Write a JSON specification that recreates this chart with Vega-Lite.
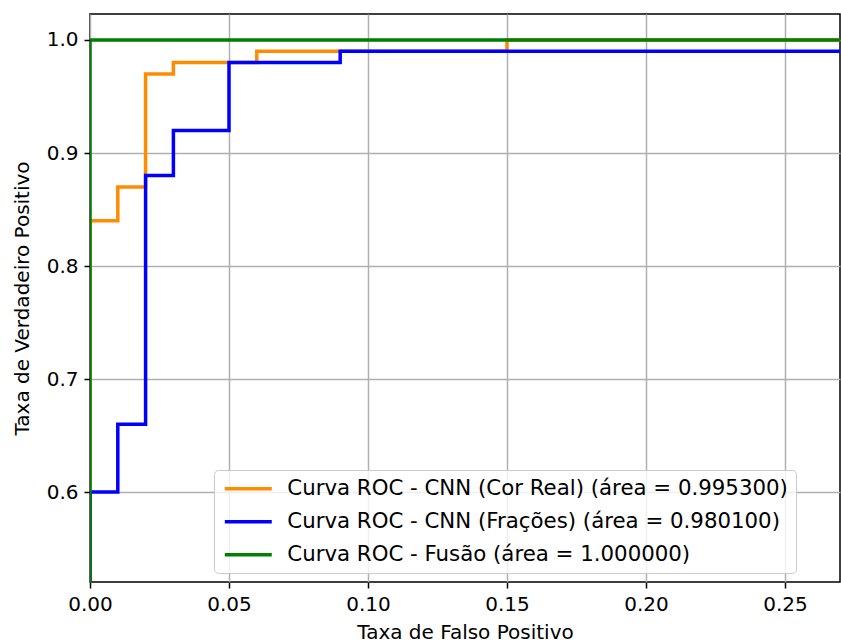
{
  "$schema": "https://vega.github.io/schema/vega-lite/v6.json",
  "width": 750,
  "height": 568,
  "autosize": {"type": "none"},
  "padding": {"left": 90, "top": 14, "right": 1, "bottom": 62},
  "background": "white",
  "config": {
    "font": "DejaVu Sans",
    "view": {"stroke": "black", "strokeWidth": 1.5},
    "axis": {
      "labelFont": "DejaVu Sans",
      "titleFont": "DejaVu Sans",
      "labelFontSize": 20,
      "titleFontSize": 20,
      "titleFontWeight": "normal",
      "labelColor": "black",
      "titleColor": "black",
      "tickColor": "black",
      "tickSize": 6,
      "tickWidth": 1.5,
      "domain": false,
      "grid": true,
      "gridColor": "#b0b0b0",
      "gridWidth": 1.5,
      "labelPadding": 6,
      "labelFlush": false,
      "labelOverlap": false
    }
  },
  "data": {
    "values": [
      {"series": "Curva ROC - CNN (Cor Real) (área = 0.995300)", "i": 0, "fpr": 0.0, "tpr": 0.0},
      {"series": "Curva ROC - CNN (Cor Real) (área = 0.995300)", "i": 1, "fpr": 0.0, "tpr": 0.84},
      {"series": "Curva ROC - CNN (Cor Real) (área = 0.995300)", "i": 2, "fpr": 0.01, "tpr": 0.84},
      {"series": "Curva ROC - CNN (Cor Real) (área = 0.995300)", "i": 3, "fpr": 0.01, "tpr": 0.87},
      {"series": "Curva ROC - CNN (Cor Real) (área = 0.995300)", "i": 4, "fpr": 0.02, "tpr": 0.87},
      {"series": "Curva ROC - CNN (Cor Real) (área = 0.995300)", "i": 5, "fpr": 0.02, "tpr": 0.97},
      {"series": "Curva ROC - CNN (Cor Real) (área = 0.995300)", "i": 6, "fpr": 0.03, "tpr": 0.97},
      {"series": "Curva ROC - CNN (Cor Real) (área = 0.995300)", "i": 7, "fpr": 0.03, "tpr": 0.98},
      {"series": "Curva ROC - CNN (Cor Real) (área = 0.995300)", "i": 8, "fpr": 0.06, "tpr": 0.98},
      {"series": "Curva ROC - CNN (Cor Real) (área = 0.995300)", "i": 9, "fpr": 0.06, "tpr": 0.99},
      {"series": "Curva ROC - CNN (Cor Real) (área = 0.995300)", "i": 10, "fpr": 0.15, "tpr": 0.99},
      {"series": "Curva ROC - CNN (Cor Real) (área = 0.995300)", "i": 11, "fpr": 0.15, "tpr": 1.0},
      {"series": "Curva ROC - CNN (Cor Real) (área = 0.995300)", "i": 12, "fpr": 1.0, "tpr": 1.0},
      {"series": "Curva ROC - CNN (Frações) (área = 0.980100)", "i": 0, "fpr": 0.0, "tpr": 0.0},
      {"series": "Curva ROC - CNN (Frações) (área = 0.980100)", "i": 1, "fpr": 0.0, "tpr": 0.6},
      {"series": "Curva ROC - CNN (Frações) (área = 0.980100)", "i": 2, "fpr": 0.01, "tpr": 0.6},
      {"series": "Curva ROC - CNN (Frações) (área = 0.980100)", "i": 3, "fpr": 0.01, "tpr": 0.66},
      {"series": "Curva ROC - CNN (Frações) (área = 0.980100)", "i": 4, "fpr": 0.02, "tpr": 0.66},
      {"series": "Curva ROC - CNN (Frações) (área = 0.980100)", "i": 5, "fpr": 0.02, "tpr": 0.88},
      {"series": "Curva ROC - CNN (Frações) (área = 0.980100)", "i": 6, "fpr": 0.03, "tpr": 0.88},
      {"series": "Curva ROC - CNN (Frações) (área = 0.980100)", "i": 7, "fpr": 0.03, "tpr": 0.92},
      {"series": "Curva ROC - CNN (Frações) (área = 0.980100)", "i": 8, "fpr": 0.05, "tpr": 0.92},
      {"series": "Curva ROC - CNN (Frações) (área = 0.980100)", "i": 9, "fpr": 0.05, "tpr": 0.98},
      {"series": "Curva ROC - CNN (Frações) (área = 0.980100)", "i": 10, "fpr": 0.09, "tpr": 0.98},
      {"series": "Curva ROC - CNN (Frações) (área = 0.980100)", "i": 11, "fpr": 0.09, "tpr": 0.99},
      {"series": "Curva ROC - CNN (Frações) (área = 0.980100)", "i": 12, "fpr": 0.98, "tpr": 0.99},
      {"series": "Curva ROC - CNN (Frações) (área = 0.980100)", "i": 13, "fpr": 0.98, "tpr": 1.0},
      {"series": "Curva ROC - CNN (Frações) (área = 0.980100)", "i": 14, "fpr": 1.0, "tpr": 1.0},
      {"series": "Curva ROC - Fusão (área = 1.000000)", "i": 0, "fpr": 0.0, "tpr": 0.0},
      {"series": "Curva ROC - Fusão (área = 1.000000)", "i": 1, "fpr": 0.0, "tpr": 1.0},
      {"series": "Curva ROC - Fusão (área = 1.000000)", "i": 2, "fpr": 1.0, "tpr": 1.0}
    ]
  },
  "mark": {"type": "line", "clip": true, "strokeWidth": 3.5, "interpolate": "linear"},
  "encoding": {
    "x": {
      "field": "fpr", "type": "quantitative",
      "scale": {"domain": [0, 0.2698], "nice": false, "zero": false},
      "axis": {"title": "Taxa de Falso Positivo", "values": [0, 0.05, 0.1, 0.15, 0.2, 0.25], "format": ".2f", "titlePadding": 8}
    },
    "y": {
      "field": "tpr", "type": "quantitative",
      "scale": {"domain": [0.5204, 1.023], "nice": false, "zero": false},
      "axis": {"title": "Taxa de Verdadeiro Positivo", "values": [0.6, 0.7, 0.8, 0.9, 1.0], "format": ".1f", "titlePadding": 14}
    },
    "order": {"field": "i", "type": "quantitative"},
    "color": {
      "field": "series", "type": "nominal",
      "scale": {
        "domain": ["Curva ROC - CNN (Cor Real) (área = 0.995300)", "Curva ROC - CNN (Frações) (área = 0.980100)", "Curva ROC - Fusão (área = 1.000000)"],
        "range": ["#ff8c00", "#0000ff", "#008000"]
      },
      "legend": {
        "title": null,
        "orient": "none",
        "legendX": 124,
        "legendY": 456,
        "symbolType": "M-1,0H5",
        "symbolSize": 245,
        "symbolStrokeWidth": 3.5,
        "labelFont": "DejaVu Sans",
        "labelFontSize": 21.3,
        "labelColor": "black",
        "labelLimit": 1000,
        "labelOffset": 44,
        "rowPadding": 11,
        "padding": 8,
        "strokeColor": "#cccccc",
        "fillColor": "rgba(255,255,255,0.8)",
        "cornerRadius": 4
      }
    }
  }
}
